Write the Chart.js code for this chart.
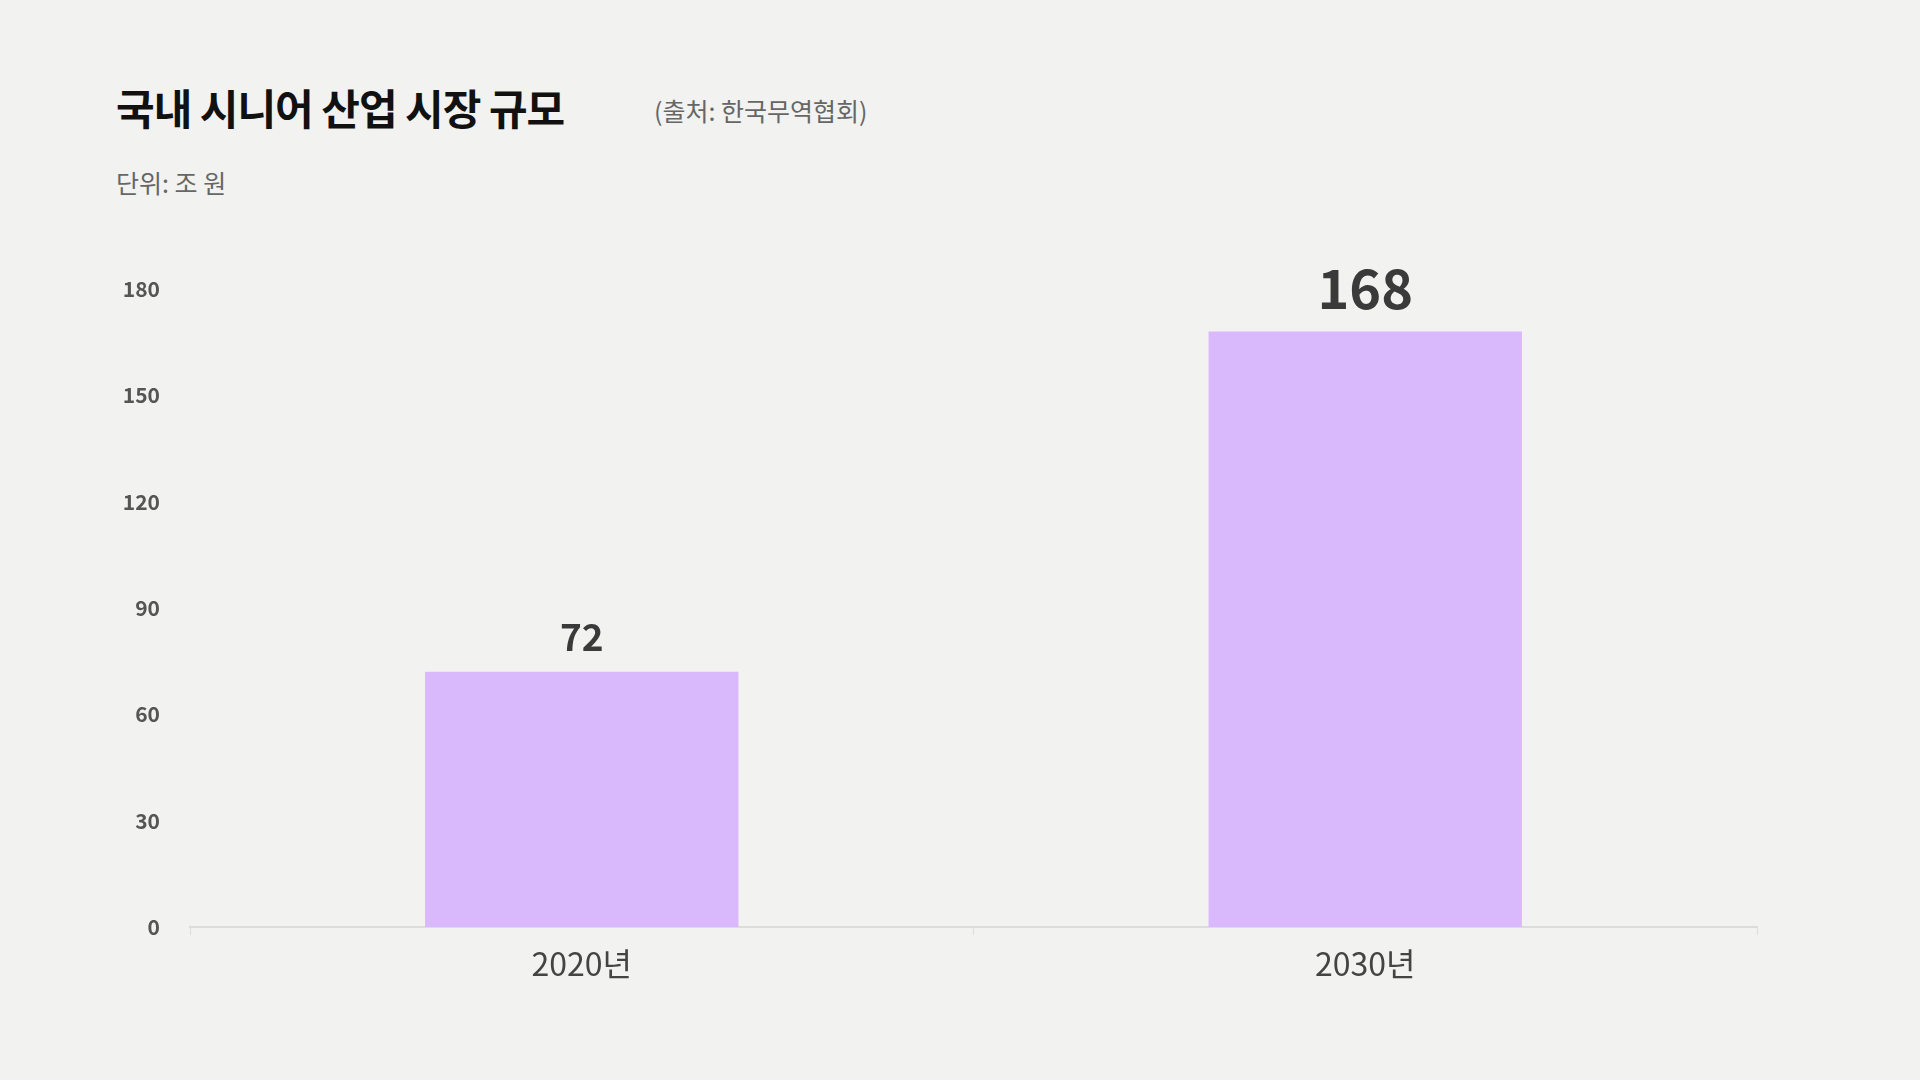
<!DOCTYPE html>
<html><head><meta charset="utf-8">
<script src="https://cdn.jsdelivr.net/npm/chart.js@4"></script>
<style>
html,body{margin:0;padding:0;background:#f2f2f0;width:1920px;height:1080px;overflow:hidden;font-family:"Noto Sans CJK KR","Noto Sans",sans-serif;}
#title{position:absolute;left:116px;top:76px;font-size:42px;font-weight:700;color:#111;letter-spacing:-1px;}
#src{position:absolute;left:654px;top:92px;font-size:25px;color:#666;}
#unit{position:absolute;left:116px;top:164px;font-size:25px;color:#666;}
#wrap{position:absolute;left:0;top:0;width:1920px;height:1080px;}
</style></head><body>
<div id="title">국내 시니어 산업 시장 규모</div>
<div id="src">(출처: 한국무역협회)</div>
<div id="unit">단위: 조 원</div>
<div id="wrap"><canvas id="c" width="1920" height="1080"></canvas></div>
<script>
const categories = ["2020년", "2030년"];
const values = [72, 168];
const yTicks = [0, 30, 60, 90, 120, 150, 180];
const labelSizes = [37, 54];

const valueLabels = {
  id: 'valueLabels',
  afterDatasetsDraw(chart) {
    const ctx = chart.ctx;
    const meta = chart.getDatasetMeta(0);
    ctx.save();
    ctx.fillStyle = '#3a3a3a';
    ctx.textAlign = 'center';
    ctx.textBaseline = 'bottom';
    meta.data.forEach((bar, i) => {
      ctx.font = `700 ${labelSizes[i]}px "Noto Sans CJK KR", sans-serif`;
      ctx.fillText(String(values[i]), bar.x, bar.y - 16);
    });
    ctx.restore();
  }
};

new Chart(document.getElementById('c'), {
  type: 'bar',
  data: { labels: categories, datasets: [{ data: values, backgroundColor: '#d9b8fb', categoryPercentage: 0.4, barPercentage: 1 }] },
  options: {
    responsive: false, animation: false,
    layout: { padding: { left: 0, right: 163, top: 289, bottom: 53 } },
    plugins: { legend: { display: false }, tooltip: { enabled: false } },
    scales: {
      x: {
        grid: { display: true, drawOnChartArea: false, offset: true, tickLength: 8, color: '#dcdcdc' },
        border: { color: '#dcdcdc', width: 2 },
        ticks: { color: '#444', font: { size: 32, family: '"Noto Sans CJK KR", sans-serif' }, padding: 10 },
        afterFit(s) { s.height = 100; }
      },
      y: {
        min: 0, max: 180,
        afterBuildTicks(s) { s.ticks = yTicks.map(v => ({ value: v })); },
        grid: { display: false },
        border: { display: false },
        ticks: { color: '#555', font: { size: 21, weight: '700', family: '"Noto Sans CJK KR", sans-serif' }, padding: 22 },
        afterFit(s) { s.width = 190; }
      }
    }
  },
  plugins: [valueLabels]
});
</script>
</body></html>
